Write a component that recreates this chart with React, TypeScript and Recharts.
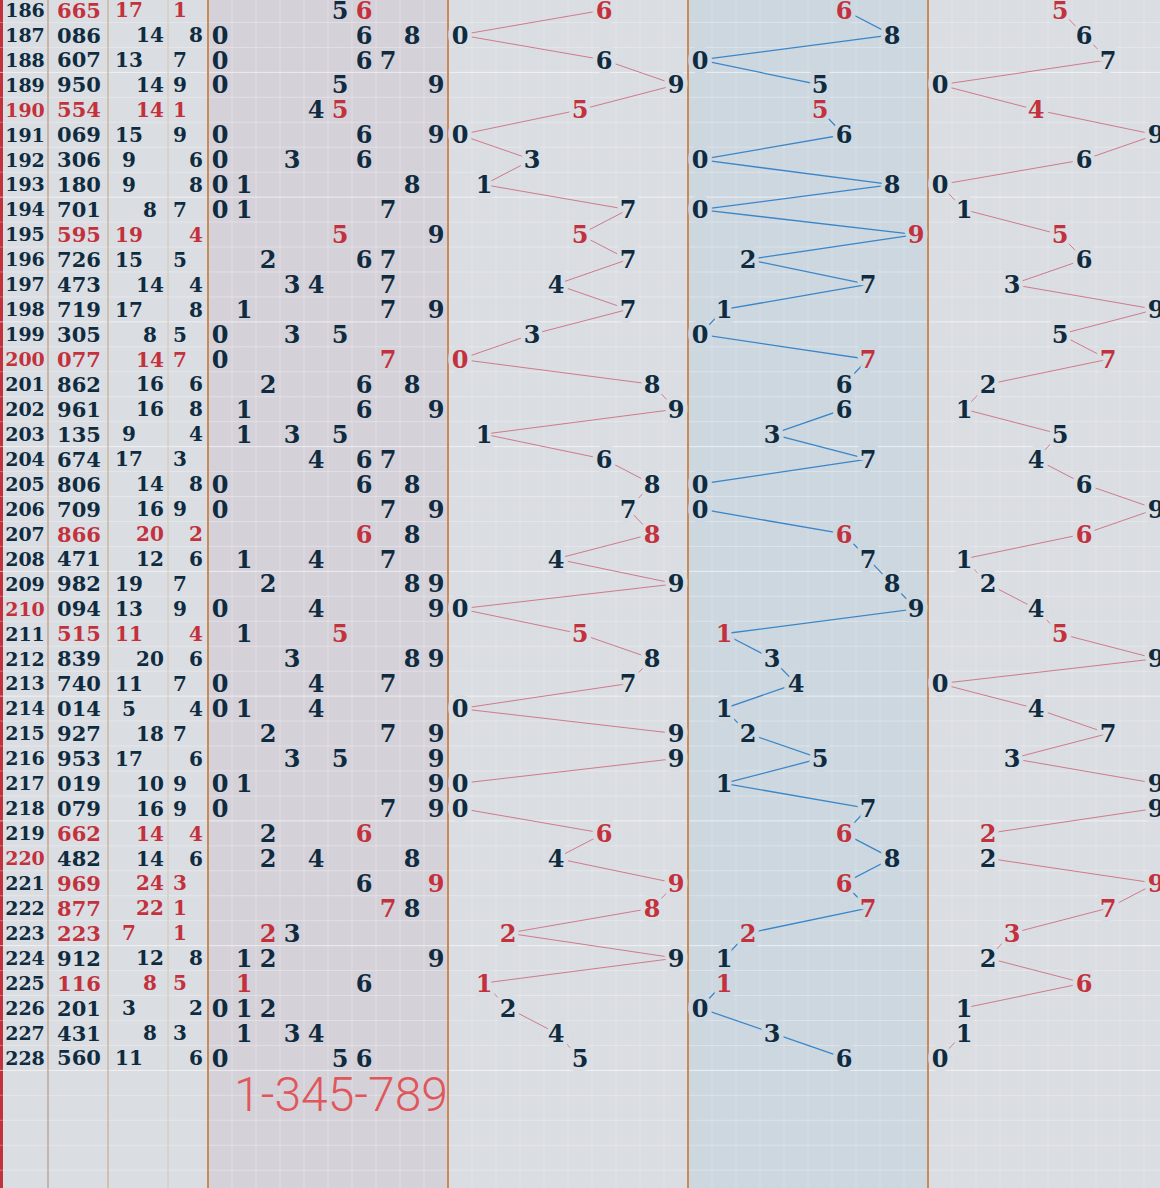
import React from "react";
import {
  ComposedChart,
  Scatter,
  XAxis,
  YAxis,
  ReferenceArea,
  ReferenceLine,
} from "recharts";

const ISSUES = [
  186, 187, 188, 189, 190, 191, 192, 193, 194, 195, 196, 197, 198, 199, 200,
  201, 202, 203, 204, 205, 206, 207, 208, 209, 210, 211, 212, 213, 214, 215,
  216, 217, 218, 219, 220, 221, 222, 223, 224, 225, 226, 227, 228,
];
const DRAWS = [
  "665", "086", "607", "950", "554", "069", "306", "180", "701", "595",
  "726", "473", "719", "305", "077", "862", "961", "135", "674", "806",
  "709", "866", "471", "982", "094", "515", "839", "740", "014", "927",
  "953", "019", "079", "662", "482", "969", "877", "223", "912", "116",
  "201", "431", "560",
];
const SUMS = [
  17, 14, 13, 14, 14, 15, 9, 9, 8, 19, 15, 14, 17, 8, 14, 16, 16, 9, 17, 14,
  16, 20, 12, 19, 13, 11, 20, 11, 5, 18, 17, 10, 16, 14, 14, 24, 22, 7, 12, 8,
  3, 8, 11,
];
const SPANS = [
  1, 8, 7, 9, 1, 9, 6, 8, 7, 4, 5, 4, 8, 5, 7, 6, 8, 4, 3, 8, 9, 2, 6, 7, 9,
  4, 6, 7, 4, 7, 6, 9, 9, 4, 6, 3, 1, 1, 8, 5, 2, 3, 6,
];
const NOTE = "1-345-789";

const W = 1160;
const H = 1188;
const ROW_H = 24.95;
const ROW_TOP = -10 / ROW_H;
const ROW_BOTTOM = (H - 10) / ROW_H;

const DARK = "#0f2b40";
const RED = "#c2313c";
const BG = "#dadde2";
const BG_DIST = "#d5d1d9";
const BG_TENS = "#cdd7e0";
const BORDER = "#c98a55";
const SERIF = "'DejaVu Serif', serif";

const DIST_LEFT = 208;
const POS_LEFT = [448, 688, 928];
const CELL = 24;
const LINE_COLORS = ["#d07a89", "#3a86c8", "#d07a89"];
const HALOS = [BG, BG_TENS, BG];

const isRepeat = (s: string) => new Set(s.split("")).size < 3;

type Mark = {
  x: number;
  y: number;
  label: string;
  color: string;
  size: number;
  anchor?: string;
  halo?: string;
  sans?: boolean;
};

const leftMarks: Mark[] = [];
ISSUES.forEach((issue, i) => {
  const rep = isRepeat(DRAWS[i]);
  const c = rep ? RED : DARK;
  leftMarks.push({ x: 25, y: i, label: String(issue), color: issue % 10 === 0 ? RED : DARK, size: 19 });
  leftMarks.push({ x: 79, y: i, label: DRAWS[i], color: c, size: 21 });
  leftMarks.push({ x: SUMS[i] % 2 ? 129 : 150, y: i, label: String(SUMS[i]), color: c, size: 20 });
  leftMarks.push({ x: SPANS[i] % 2 ? 180 : 196, y: i, label: String(SPANS[i]), color: c, size: 20 });
});

const distMarks: Mark[] = [];
DRAWS.forEach((draw, i) => {
  const digits = draw.split("").map(Number);
  Array.from(new Set(digits)).forEach((d) => {
    const count = digits.filter((v) => v === d).length;
    distMarks.push({
      x: DIST_LEFT + CELL / 2 + CELL * d,
      y: i,
      label: String(d),
      color: count > 1 ? RED : DARK,
      size: 24,
    });
  });
});

const posMarks: Mark[][] = POS_LEFT.map((left, s) =>
  DRAWS.map((draw, i) => {
    const d = Number(draw[s]);
    return {
      x: left + CELL / 2 + CELL * d,
      y: i,
      label: String(d),
      color: isRepeat(draw) ? RED : DARK,
      size: 24,
      halo: HALOS[s],
    };
  })
);

const noteMarks: Mark[] = [
  { x: 234, y: 43.45, label: NOTE, color: "#e0575b", size: 48, anchor: "start", sans: true },
];

const TextMark = (props: any) => {
  const { cx, cy, payload } = props;
  if (cx == null || cy == null) return <g />;
  const p = payload as Mark;
  return (
    <text
      x={cx}
      y={cy}
      dy="0.36em"
      textAnchor={p.anchor ?? "middle"}
      fontFamily={p.sans ? "Roboto, sans-serif" : SERIF}
      fontWeight={p.sans ? 300 : 700}
      fontSize={p.size}
      fill={p.color}
      stroke={p.halo ?? "none"}
      strokeWidth={p.halo ? 9 : 0}
      strokeLinejoin="round"
      paintOrder="stroke"
    >
      {p.label}
    </text>
  );
};

const rowLines = Array.from({ length: 47 }, (_, k) => k + 0.5);
const colLines: number[] = [];
[DIST_LEFT, ...POS_LEFT].forEach((left) => {
  for (let i = 1; i < 10; i++) colLines.push(left + CELL * i);
});

export default function App() {
  return (
    <div style={{ position: "absolute", left: 0, top: 0, width: W, height: H, background: BG }}>
      <ComposedChart width={W} height={H} margin={{ top: 0, right: 0, bottom: 0, left: 0 }}>
        <XAxis type="number" dataKey="x" domain={[0, W]} allowDataOverflow hide />
        <YAxis type="number" dataKey="y" domain={[ROW_TOP, ROW_BOTTOM]} allowDataOverflow reversed hide />
        <ReferenceArea x1={DIST_LEFT} x2={POS_LEFT[0]} y1={ROW_TOP} y2={ROW_BOTTOM} fill={BG_DIST} fillOpacity={1} stroke="none" />
        <ReferenceArea x1={POS_LEFT[1]} x2={POS_LEFT[2]} y1={ROW_TOP} y2={ROW_BOTTOM} fill={BG_TENS} fillOpacity={1} stroke="none" />
        <ReferenceArea x1={0} x2={3} y1={ROW_TOP} y2={ROW_BOTTOM} fill={RED} fillOpacity={1} stroke="none" />
        {colLines.map((x) => (
          <ReferenceLine key={"c" + x} x={x} stroke="#ffffff" strokeOpacity={0.22} strokeWidth={1} />
        ))}
        {rowLines.map((y, k) => (
          <ReferenceLine
            key={"r" + y}
            y={y}
            stroke="#ffffff"
            strokeOpacity={k % 5 === 2 ? 0.6 : 0.3}
            strokeWidth={1}
          />
        ))}
        <ReferenceLine x={48} stroke="#b98c68" strokeWidth={1} />
        <ReferenceLine x={108} stroke="#c4a27f" strokeWidth={1} />
        <ReferenceLine x={168} stroke="#d6c6ae" strokeWidth={1} />
        {[DIST_LEFT, ...POS_LEFT].map((x) => (
          <ReferenceLine key={"b" + x} x={x} stroke={BORDER} strokeWidth={2} />
        ))}
        <Scatter data={leftMarks} shape={TextMark} isAnimationActive={false} />
        <Scatter data={distMarks} shape={TextMark} isAnimationActive={false} />
        {posMarks.map((marks, s) => (
          <Scatter
            key={s}
            data={marks}
            shape={TextMark}
            line={{ stroke: LINE_COLORS[s], strokeWidth: s === 1 ? 1.3 : 1 }}
            isAnimationActive={false}
          />
        ))}
        <Scatter data={noteMarks} shape={TextMark} isAnimationActive={false} />
      </ComposedChart>
    </div>
  );
}
